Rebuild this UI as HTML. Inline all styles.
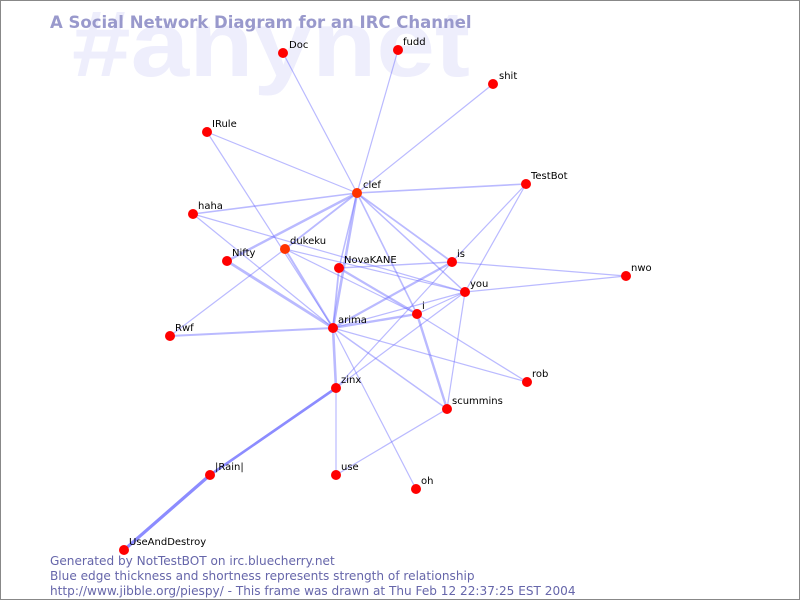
<!DOCTYPE html>
<html><head><style>
body{margin:0;background:#fff}
svg{display:block}
text{font-family:"DejaVu Sans","Liberation Sans",sans-serif}
</style></head><body>
<svg width="800" height="600" xmlns="http://www.w3.org/2000/svg">
<rect x="0.5" y="0.5" width="799" height="599" fill="#fff" stroke="#888" stroke-width="1"/>
<text x="72" y="76" font-size="94" font-weight="bold" fill="#eeeefc" textLength="398" lengthAdjust="spacingAndGlyphs" style="font-family:'Liberation Sans',sans-serif">#anynet</text>
<text x="50" y="28" font-size="16.5" font-weight="bold" fill="#9999cc">A Social Network Diagram for an IRC Channel</text>
<g stroke="#6666ff" stroke-opacity="0.45" stroke-width="1.2" stroke-linecap="round">
<line x1="283" y1="53" x2="357" y2="193"/>
<line x1="398" y1="50" x2="357" y2="193"/>
<line x1="493" y1="84" x2="357" y2="193"/>
<line x1="207" y1="132" x2="357" y2="193"/>
<line x1="207" y1="132" x2="333" y2="328"/>
<line x1="357" y1="193" x2="526" y2="184" stroke-width="1.6"/>
<line x1="357" y1="193" x2="193" y2="214" stroke-width="1.6"/>
<line x1="357" y1="193" x2="227" y2="261" stroke-width="2.4"/>
<line x1="357" y1="193" x2="285" y2="249" stroke-width="1.8"/>
<line x1="357" y1="193" x2="333" y2="328" stroke-width="2.6"/>
<line x1="357" y1="193" x2="339" y2="268" stroke-width="1.5"/>
<line x1="357" y1="193" x2="417" y2="314" stroke-width="1.6"/>
<line x1="357" y1="193" x2="452" y2="262" stroke-width="1.8"/>
<line x1="357" y1="193" x2="465" y2="292" stroke-width="1.5"/>
<line x1="193" y1="214" x2="333" y2="328"/>
<line x1="193" y1="214" x2="465" y2="292"/>
<line x1="285" y1="249" x2="333" y2="328" stroke-width="2"/>
<line x1="285" y1="249" x2="170" y2="336"/>
<line x1="285" y1="249" x2="465" y2="292"/>
<line x1="285" y1="249" x2="417" y2="314"/>
<line x1="227" y1="261" x2="333" y2="328" stroke-width="2.8"/>
<line x1="339" y1="268" x2="417" y2="314" stroke-width="2.2"/>
<line x1="339" y1="268" x2="452" y2="262" stroke-width="1.4"/>
<line x1="339" y1="268" x2="333" y2="328" stroke-width="1.8"/>
<line x1="452" y1="262" x2="333" y2="328" stroke-width="2.2"/>
<line x1="452" y1="262" x2="626" y2="276"/>
<line x1="452" y1="262" x2="336" y2="388"/>
<line x1="526" y1="184" x2="452" y2="262"/>
<line x1="526" y1="184" x2="465" y2="292"/>
<line x1="465" y1="292" x2="626" y2="276"/>
<line x1="465" y1="292" x2="333" y2="328"/>
<line x1="465" y1="292" x2="336" y2="388"/>
<line x1="465" y1="292" x2="447" y2="409"/>
<line x1="465" y1="292" x2="417" y2="314"/>
<line x1="417" y1="314" x2="333" y2="328" stroke-width="2.4"/>
<line x1="417" y1="314" x2="447" y2="409" stroke-width="2.4"/>
<line x1="417" y1="314" x2="527" y2="382"/>
<line x1="333" y1="328" x2="170" y2="336" stroke-width="2"/>
<line x1="333" y1="328" x2="336" y2="388" stroke-width="2.6"/>
<line x1="333" y1="328" x2="527" y2="382"/>
<line x1="333" y1="328" x2="447" y2="409" stroke-width="1.5"/>
<line x1="333" y1="328" x2="416" y2="489"/>
<line x1="336" y1="388" x2="336" y2="475"/>
<line x1="336" y1="475" x2="447" y2="409"/>
<line x1="336" y1="388" x2="210" y2="475" stroke-width="2.6" stroke-opacity="0.75"/>
<line x1="210" y1="475" x2="124" y2="550" stroke-width="3.2" stroke-opacity="0.75"/>
</g>
<g fill="#ff0000">
<circle cx="283" cy="53" r="5"/><circle cx="398" cy="50" r="5"/><circle cx="493" cy="84" r="5"/>
<circle cx="207" cy="132" r="5"/><circle cx="357" cy="193" r="5" fill="#ff3300"/><circle cx="526" cy="184" r="5"/>
<circle cx="193" cy="214" r="5"/><circle cx="285" cy="249" r="5" fill="#ff3300"/><circle cx="227" cy="261" r="5"/>
<circle cx="339" cy="268" r="5"/><circle cx="452" cy="262" r="5"/><circle cx="626" cy="276" r="5"/>
<circle cx="465" cy="292" r="5"/><circle cx="417" cy="314" r="5"/><circle cx="333" cy="328" r="5"/>
<circle cx="170" cy="336" r="5"/><circle cx="527" cy="382" r="5"/><circle cx="336" cy="388" r="5"/>
<circle cx="447" cy="409" r="5"/><circle cx="336" cy="475" r="5"/><circle cx="416" cy="489" r="5"/>
<circle cx="210" cy="475" r="5"/><circle cx="124" cy="550" r="5"/>
</g>
<g font-size="10" fill="#000">
<text x="289" y="48">Doc</text><text x="403" y="45">fudd</text><text x="499" y="79">shit</text>
<text x="212" y="127">IRule</text><text x="363" y="188">clef</text><text x="531" y="179">TestBot</text>
<text x="198" y="209">haha</text><text x="290" y="244">dukeku</text><text x="232" y="256">Nifty</text>
<text x="344" y="263">NovaKANE</text><text x="457" y="257">is</text><text x="631" y="271">nwo</text>
<text x="470" y="287">you</text><text x="422" y="309">i</text><text x="338" y="323">arima</text>
<text x="175" y="331">Rwf</text><text x="532" y="377">rob</text><text x="341" y="383">zinx</text>
<text x="452" y="404">scummins</text><text x="341" y="470">use</text><text x="421" y="484">oh</text>
<text x="215" y="470">|Rain|</text><text x="129" y="545">UseAndDestroy</text>
</g>
<g fill="#6666aa" style="font-family:'DejaVu Sans',sans-serif;font-size:12.1px">
<text x="50" y="565">Generated by NotTestBOT on irc.bluecherry.net</text>
<text x="50" y="580">Blue edge thickness and shortness represents strength of relationship</text>
<text x="50" y="595">http://www.jibble.org/piespy/ - This frame was drawn at Thu Feb 12 22:37:25 EST 2004</text>
</g>
</svg>
</body></html>
